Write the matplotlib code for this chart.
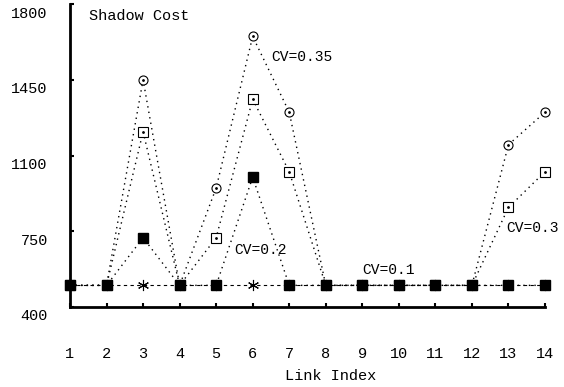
import numpy as np
import matplotlib
matplotlib.use("Agg")
import matplotlib.pyplot as plt
import matplotlib.transforms as mtransforms

plt.rcParams['font.family'] = ['Liberation Mono', 'DejaVu Sans Mono']

# datos
links = np.arange(1, 15)
cv035 = [500, 500, 1450, 500, 950, 1650, 1300, 500, 500, 500, 500, 500, 1150, 1300]
cv03 = [500, 500, 1210, 500, 720, 1360, 1025, 500, 500, 500, 500, 500, 860, 1025]
cv02 = [500, 500, 720, 500, 500, 1000, 500, 500, 500, 500, 500, 500, 500, 500]
cv01 = [500] * 14
yticks = [400, 750, 1100, 1450, 1800]

fig = plt.figure(figsize=(5.64, 3.87), dpi=100)
ax = fig.add_axes([70 / 564, 1 - 307 / 387, 475 / 564, 303 / 387])

# CV=0.1 (asteriscos, linea discontinua)
ax.plot(links, cv01, color='black', linestyle=(0, (3, 3)), linewidth=0.8,
        marker=(6, 2, 0), markersize=8, markeredgewidth=0.8, clip_on=False, zorder=3)
# CV=0.35 (circulos)
ax.plot(links, cv035, color='black', linestyle=(0, (1, 3)), linewidth=1,
        marker='o', markersize=6.5, markerfacecolor='white', markeredgewidth=0.8,
        clip_on=False, zorder=2)
ax.plot(links, cv035, linestyle='none', marker='.', markersize=2, color='black',
        clip_on=False, zorder=2)
# CV=0.3 (cuadrados vacios)
ax.plot(links, cv03, color='black', linestyle=(0, (1, 3)), linewidth=1,
        marker='s', markersize=6.5, markerfacecolor='white', markeredgewidth=0.8,
        clip_on=False, zorder=2)
ax.plot(links, cv03, linestyle='none', marker='.', markersize=2, color='black',
        clip_on=False, zorder=2)
# CV=0.2 (cuadrados rellenos)
ax.plot(links, cv02, color='black', linestyle=(0, (1, 3)), linewidth=1,
        marker='s', markersize=6.5, markerfacecolor='black', clip_on=False, zorder=4)

ax.set_xlim(1, 14)
ax.set_ylim(400, 1800)
ax.set_xticks(links)
ax.set_yticks(yticks)
ax.tick_params(direction='in', length=3, width=1.5, labelsize=11)
ax.tick_params(axis='x', pad=29)
ax.tick_params(axis='y', pad=16)
offset = mtransforms.ScaledTranslation(0, -8 / 100, fig.dpi_scale_trans)
for lab in ax.get_yticklabels():
    lab.set_transform(lab.get_transform() + offset)

for s in ['top', 'right']:
    ax.spines[s].set_visible(False)
for s in ['left', 'bottom']:
    ax.spines[s].set_linewidth(2)

ax.set_xlabel('Link Index', fontsize=11)
ax.xaxis.set_label_coords(261 / 475, -62 / 303)

ax.text(0.04, 0.985, 'Shadow Cost', transform=ax.transAxes, fontsize=11, va='top')
ax.text(6.5, 1555, 'CV=0.35', fontsize=10.5, va='center')
ax.text(12.95, 765, 'CV=0.3', fontsize=10.5, va='center')
ax.text(5.5, 665, 'CV=0.2', fontsize=10.5, va='center')
ax.text(9.0, 570, 'CV=0.1', fontsize=10.5, va='center')

fig.savefig('out.png', dpi=100)
